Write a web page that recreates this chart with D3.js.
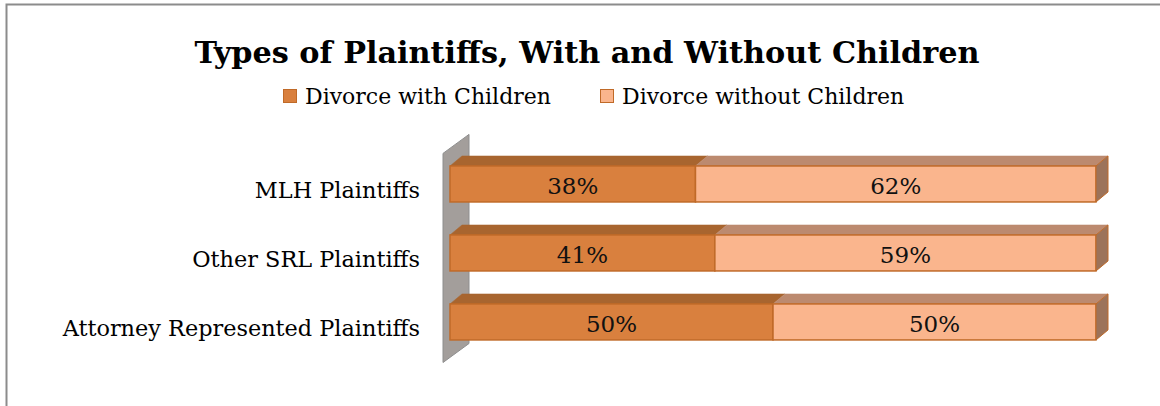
<!DOCTYPE html>
<html>
<head>
<meta charset="utf-8">
<script src="https://cdn.jsdelivr.net/npm/d3@7"></script>
<style>
  html, body { margin: 0; padding: 0; background: #fff; }
  svg { display: block; font-family: "DejaVu Serif", "Liberation Serif", serif; }
</style>
</head>
<body>
<svg id="chart" width="1160" height="406"></svg>
<script>
// ---- data ----
const categories = ["MLH Plaintiffs", "Other SRL Plaintiffs", "Attorney Represented Plaintiffs"];
const withChildren = [0.38, 0.41, 0.50];
const withoutChildren = [0.62, 0.59, 0.50];
const seriesNames = ["Divorce with Children", "Divorce without Children"];

// ---- look ----
const fronts = ["#d9803e", "#fab58d"];
const tops = ["#a8652f", "#bc8a6f"];
const sideColor = "#9c735a";
const edge = "#c06a28";
const depth = { dx: 12, dy: -10 };

const svg = d3.select("#chart");

// frame
svg.append("rect")
  .attr("x", 6.5).attr("y", 4.5)
  .attr("width", 1160).attr("height", 420)
  .attr("fill", "#fff").attr("stroke", "#8c8c8c").attr("stroke-width", 2);

// title
svg.append("text")
  .attr("x", 587).attr("y", 63)
  .attr("text-anchor", "middle")
  .attr("font-size", 30.3).attr("font-weight", "bold")
  .text("Types of Plaintiffs, With and Without Children");

// scales
const x = d3.scaleLinear().domain([0, 1]).range([450, 1096]);
const y = d3.scaleBand().domain(categories).range([149.4, 356.5])
  .paddingInner(0.478).paddingOuter(0.24);

// legend
const legendItems = [{ name: seriesNames[0], x: 283 }, { name: seriesNames[1], x: 600 }];
const lg = svg.append("g").selectAll("g").data(legendItems).join("g")
  .attr("transform", d => `translate(${d.x},89)`);
lg.append("rect")
  .attr("x", 0.5).attr("y", 0.5).attr("width", 13).attr("height", 13)
  .attr("fill", (d, i) => fronts[i]).attr("stroke", edge).attr("stroke-width", 1);
lg.append("text")
  .attr("x", 22).attr("y", 15)
  .attr("font-size", 22)
  .text(d => d.name);

// back wall (3D)
const wallTop = y.range()[0] + 4;
const wallBottom = y.range()[1] + 6;
const wx = 443;
svg.append("path")
  .attr("d", `M${wx},${wallTop} L${wx + 26},${wallTop - 19} L${wx + 26},${wallBottom - 19} L${wx},${wallBottom} Z`)
  .attr("fill", "#a39e9b").attr("stroke", "#8e8e8e").attr("stroke-width", 1);

// stacked rows
const rows = categories.map((c, i) => ({
  cat: c,
  segs: [
    { s: 0, x0: 0, x1: withChildren[i], v: withChildren[i] },
    { s: 1, x0: withChildren[i], x1: withChildren[i] + withoutChildren[i], v: withoutChildren[i] }
  ]
}));

const g = svg.append("g").selectAll("g").data(rows).join("g");

g.each(function (r) {
  const row = d3.select(this);
  const y0 = y(r.cat), h = y.bandwidth();
  r.segs.forEach(sg => {
    const a = x(sg.x0), b = x(sg.x1);
    // top face
    row.append("path")
      .attr("d", `M${a},${y0} L${a + depth.dx},${y0 + depth.dy} L${b + depth.dx},${y0 + depth.dy} L${b},${y0} Z`)
      .attr("fill", tops[sg.s]).attr("stroke", tops[sg.s]).attr("stroke-width", 0.5);
    // front face
    row.append("rect")
      .attr("x", a).attr("y", y0).attr("width", b - a).attr("height", h)
      .attr("fill", fronts[sg.s]).attr("stroke", edge).attr("stroke-width", 1.5);
  });
  // right side face
  const e = x(1);
  row.append("path")
    .attr("d", `M${e},${y0} L${e + depth.dx},${y0 + depth.dy} L${e + depth.dx},${y0 + h + depth.dy} L${e},${y0 + h} Z`)
    .attr("fill", sideColor).attr("stroke", edge).attr("stroke-width", 1);
  // value labels
  r.segs.forEach(sg => {
    row.append("text")
      .attr("x", (x(sg.x0) + x(sg.x1)) / 2).attr("y", y0 + h / 2 + 10)
      .attr("text-anchor", "middle").attr("font-size", 23).attr("fill", "#111")
      .text(d3.format(".0%")(sg.v));
  });
});

// category labels
svg.append("g").selectAll("text").data(categories).join("text")
  .attr("x", 420).attr("y", d => y(d) + y.bandwidth() / 2 + 14)
  .attr("text-anchor", "end").attr("font-size", 22.4)
  .text(d => d);
</script>
</body>
</html>
